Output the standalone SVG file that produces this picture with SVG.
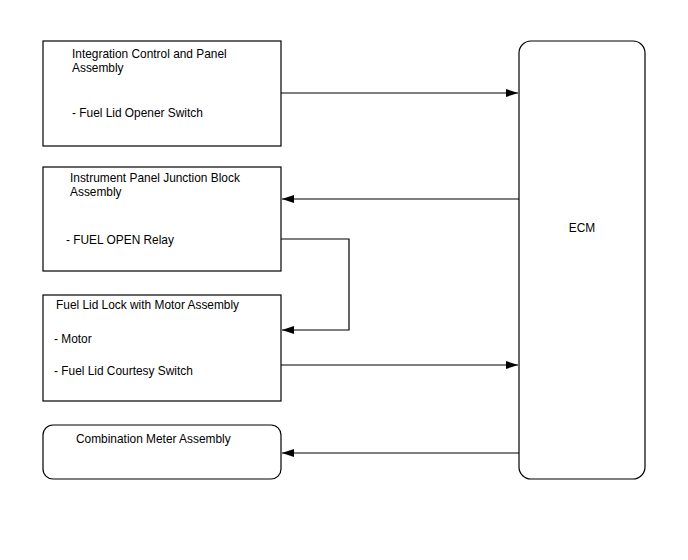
<svg xmlns="http://www.w3.org/2000/svg" width="688" height="560" viewBox="0 0 688 560">
<style>
.box{fill:#fff;stroke:#000;stroke-width:1.2}
.t{font-family:"Liberation Sans",Arial,sans-serif;font-size:11.9px;fill:#000}
.c{fill:none;stroke:#000;stroke-width:1.2}
</style>
<defs>
<marker id="ah" markerWidth="12" markerHeight="8" refX="12" refY="4" orient="auto" markerUnits="userSpaceOnUse">
<path d="M0,0 L12,4 L0,8 Z" fill="#000"/>
</marker>
</defs>
<rect width="688" height="560" fill="#fff"/>
<g id="icp">
<rect class="box" x="43" y="41" width="238" height="105"/>
<text class="t" x="72" y="58">Integration Control and Panel</text>
<text class="t" x="72" y="72">Assembly</text>
<text class="t" x="72" y="117">- Fuel Lid Opener Switch</text>
</g>
<g id="ipjb">
<rect class="box" x="43" y="167" width="238" height="104"/>
<text class="t" x="70" y="182">Instrument Panel Junction Block</text>
<text class="t" x="70" y="196">Assembly</text>
<text class="t" x="66" y="244">- FUEL OPEN Relay</text>
</g>
<g id="fuellid">
<rect class="box" x="43" y="295" width="238" height="106"/>
<text class="t" x="56" y="309">Fuel Lid Lock with Motor Assembly</text>
<text class="t" x="54" y="343">- Motor</text>
<text class="t" x="54" y="375">- Fuel Lid Courtesy Switch</text>
</g>
<g id="meter">
<rect class="box" x="43" y="425" width="238" height="54" rx="10" ry="10"/>
<text class="t" x="76" y="443">Combination Meter Assembly</text>
</g>
<g id="ecm">
<rect class="box" x="519" y="41" width="126" height="438" rx="12" ry="12"/>
<text class="t" x="582" y="232" text-anchor="middle">ECM</text>
</g>
<g id="connectors">
<line class="c" x1="281" y1="93" x2="518" y2="93" marker-end="url(#ah)"/>
<line class="c" x1="519" y1="199" x2="282" y2="199" marker-end="url(#ah)"/>
<polyline class="c" points="281,239 349,239 349,330 282,330" marker-end="url(#ah)"/>
<line class="c" x1="281" y1="365" x2="518" y2="365" marker-end="url(#ah)"/>
<line class="c" x1="519" y1="453" x2="282" y2="453" marker-end="url(#ah)"/>
</g>
</svg>
